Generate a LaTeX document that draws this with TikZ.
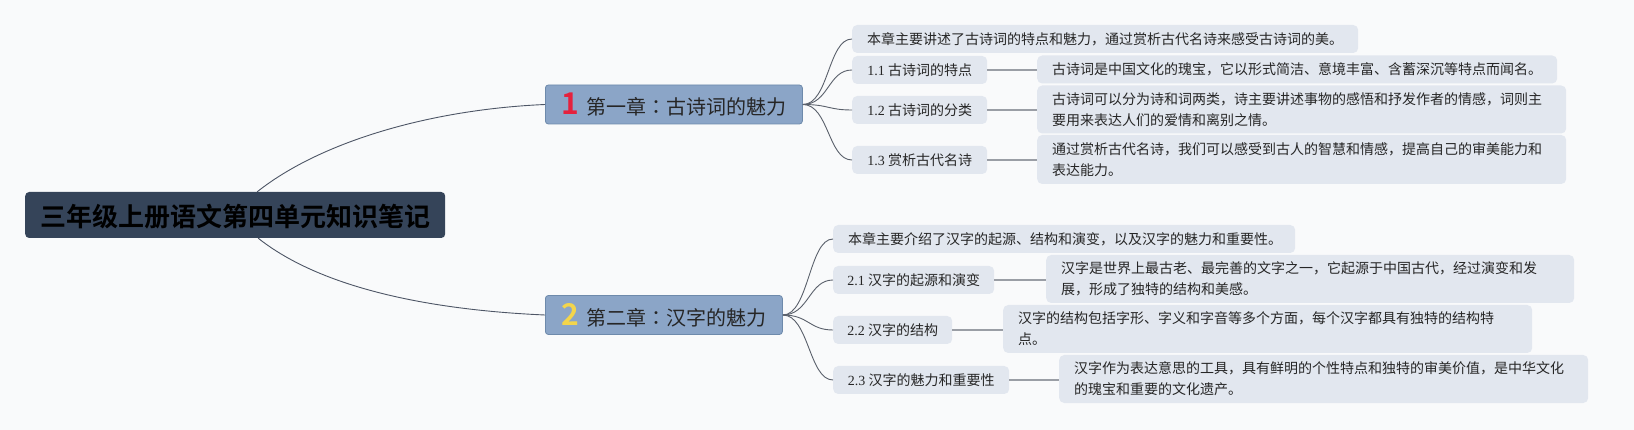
\documentclass[tikz,border=0pt]{standalone}
\usepackage{fontspec}
\setmainfont{Noto Sans CJK SC}
\newfontfamily\numf{Liberation Serif}
\newfontfamily\boldcjk{Noto Sans CJK SC Bold}
\newfontfamily\tcfont{Noto Sans CJK TC}
\definecolor{bgc}{HTML}{F9FAFB}
\definecolor{rootfill}{HTML}{354459}
\definecolor{chfill}{HTML}{8BA5C7}
\definecolor{chdraw}{HTML}{6E8AAB}
\definecolor{leaffill}{HTML}{E2E7EF}
\definecolor{txt}{HTML}{262626}
\definecolor{numred}{HTML}{E5213D}
\definecolor{numyel}{HTML}{F3D54B}
\definecolor{mainline}{HTML}{4E5666}
\definecolor{fanline}{HTML}{5A606B}
\definecolor{hline}{HTML}{9A9EA5}
\newcommand\chnum[2]{{\color{#1}\boldcjk\fontsize{30}{30}\selectfont #2}\hspace{7pt}}
\newcommand\tccolon{{\tcfont ：}}
\begin{document}
\begin{tikzpicture}[x=1pt,y=-1pt,
 rootbox/.style={fill=rootfill, rounded corners=4pt, anchor=west, minimum width=420pt, minimum height=46pt, inner sep=0pt, text height=24pt, text depth=1pt, font=\boldcjk\fontsize{26}{26}\selectfont, text=black},
 chbox/.style={fill=chfill, draw=chdraw, line width=0.8pt, rounded corners=3pt, anchor=west, minimum height=39pt, inner ysep=0pt, inner xsep=16pt, text height=22pt, text depth=1pt, align=left, font=\fontsize{20}{24}\selectfont, text=txt},
 tagbox/.style={fill=leaffill, rounded corners=5pt, anchor=west, minimum height=28pt, inner ysep=0pt, inner xsep=0pt, font=\fontsize{14}{21}\selectfont, text=txt},
 leafbox/.style={fill=leaffill, rounded corners=5pt, anchor=west, inner xsep=15pt, inner ysep=0pt, align=left, font=\fontsize{14}{21}\selectfont, text=txt},
 mainlink/.style={draw=mainline, line width=0.9pt},
 fanlink/.style={draw=fanline, line width=0.9pt},
 barlink/.style={draw=hline, line width=2pt},
]
\fill[bgc] (0,0) rectangle (1634,430);
\useasboundingbox (0,0) rectangle (1634,430);

% root and chapters
\node[rootbox] (root) at (25,215) {三年级上册语文第四单元知识笔记};
\node[chbox, text width=225pt] (ch1) at (545,104.5) {\mbox{\chnum{numred}{1}第一章\tccolon 古诗词的魅力}};
\node[chbox, text width=205pt] (ch2) at (545,315) {\mbox{\chnum{numyel}{2}第二章\tccolon 汉字的魅力}};

% chapter 1 children
\node[leafbox, text width=476pt, minimum height=28pt] (c1a) at (852,39) {本章主要讲述了古诗词的特点和魅力，通过赏析古代名诗来感受古诗词的美。};
\node[tagbox, minimum width=135pt] (c1b) at (852,70) {{\numf 1.1} 古诗词的特点};
\node[tagbox, minimum width=135pt] (c1c) at (852,110) {{\numf 1.2} 古诗词的分类};
\node[tagbox, minimum width=135pt] (c1d) at (852,160) {{\numf 1.3} 赏析古代名诗};
\node[leafbox, text width=490pt, minimum height=28pt] (l1b) at (1037,69.5) {古诗词是中国文化的瑰宝，它以形式简洁、意境丰富、含蓄深沉等特点而闻名。};
\node[leafbox, text width=499pt, minimum height=48pt] (l1c) at (1037,109.5) {古诗词可以分为诗和词两类，诗主要讲述事物的感悟和抒发作者的情感，词则主\\要用来表达人们的爱情和离别之情。};
\node[leafbox, text width=499pt, minimum height=49pt] (l1d) at (1037,159.5) {通过赏析古代名诗，我们可以感受到古人的智慧和情感，提高自己的审美能力和\\表达能力。};

% chapter 2 children
\node[leafbox, text width=432pt, minimum height=28pt] (c2a) at (833,239) {本章主要介绍了汉字的起源、结构和演变，以及汉字的魅力和重要性。};
\node[tagbox, minimum width=161pt] (c2b) at (833,280) {{\numf 2.1} 汉字的起源和演变};
\node[tagbox, minimum width=119pt] (c2c) at (833,330) {{\numf 2.2} 汉字的结构};
\node[tagbox, minimum width=176pt] (c2d) at (833,380) {{\numf 2.3} 汉字的魅力和重要性};
\node[leafbox, text width=498pt, minimum height=48pt] (l2b) at (1046,279) {汉字是世界上最古老、最完善的文字之一，它起源于中国古代，经过演变和发\\展，形成了独特的结构和美感。};
\node[leafbox, text width=499pt, minimum height=48pt] (l2c) at (1003,329) {汉字的结构包括字形、字义和字音等多个方面，每个汉字都具有独特的结构特\\点。};
\node[leafbox, text width=499pt, minimum height=48pt] (l2d) at (1059,379) {汉字作为表达意思的工具，具有鲜明的个性特点和独特的审美价值，是中华文化\\的瑰宝和重要的文化遗产。};

% root links
\draw[mainlink] ([xshift=22pt]root.north) .. controls +(63,-50) and +(-115,5) .. (ch1.west);
\draw[mainlink] ([xshift=23pt]root.south) .. controls +(63,50) and +(-115,-5) .. (ch2.west);

% chapter fans
\foreach \c in {c1a,c1b,c1c,c1d}
  \draw[fanlink] (ch1.east) .. controls +(26,0) and +(-24,0) .. (\c.west);
\foreach \c in {c2a,c2b,c2c,c2d}
  \draw[fanlink] (ch2.east) .. controls +(26,0) and +(-24,0) .. (\c.west);

% bars
\draw[barlink] (c1b.east) -- (c1b.east -| l1b.west);
\draw[barlink] (c1c.east) -- (c1c.east -| l1c.west);
\draw[barlink] (c1d.east) -- (c1d.east -| l1d.west);
\draw[barlink] (c2b.east) -- (c2b.east -| l2b.west);
\draw[barlink] (c2c.east) -- (c2c.east -| l2c.west);
\draw[barlink] (c2d.east) -- (c2d.east -| l2d.west);
\end{tikzpicture}
\end{document}
